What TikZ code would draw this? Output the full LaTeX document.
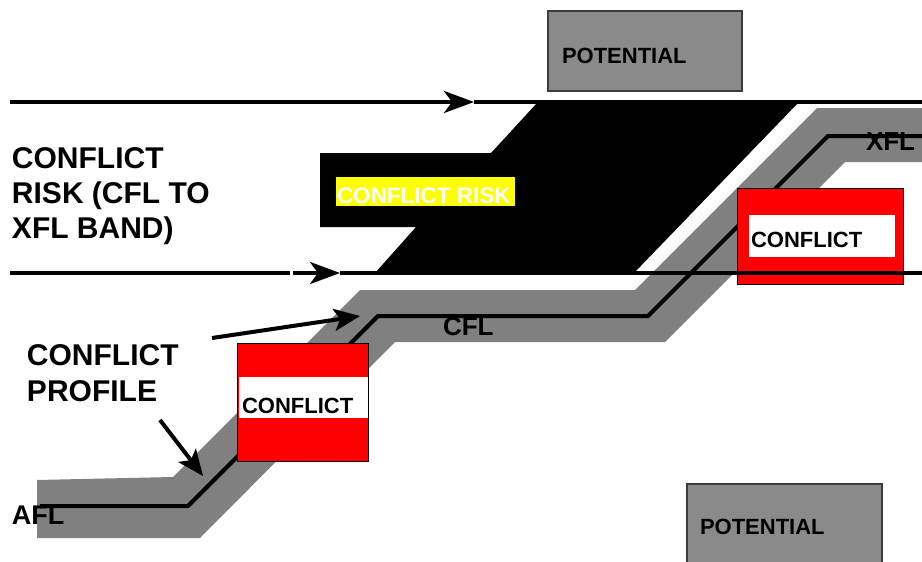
\documentclass[tikz,border=0pt]{standalone}
\usepackage{fontspec}
\setmainfont{Liberation Sans}
\usetikzlibrary{arrows.meta}
\definecolor{bandgray}{RGB}{128,128,128}
\definecolor{potgray}{RGB}{138,138,138}
\definecolor{potedge}{RGB}{60,60,60}
\definecolor{hiyellow}{RGB}{255,255,0}
\tikzset{
  txt/.style={inner sep=0pt, outer sep=0pt, anchor=base west, font=\bfseries},
  conflictbox/.style={draw=black, line width=1pt, fill=red, inner sep=0pt, outer sep=0pt},
  whitestripe/.style={fill=white, draw=none, inner sep=0pt, outer sep=0pt},
  potentialbox/.style={draw=potedge, line width=1.3pt, fill=potgray, inner sep=0pt, outer sep=0pt},
  flowline/.style={line width=3.5pt},
  profline/.style={line width=4pt, line join=miter},
  pointer/.style={line width=4pt, -{Stealth[length=26pt, width=22pt, inset=6pt]}},
  flowarrow/.style={line width=3.5pt, -{Stealth[length=30pt, width=22pt, inset=8pt]}}
}
\begin{document}
\begin{tikzpicture}[x=1pt, y=-1pt]
\useasboundingbox (0,0) rectangle (922,562);

% gray conflict-profile band
\fill[bandgray] (37,480) -- (173,477) -- (360,290) -- (635,290) -- (817,108) -- (922,108)
  -- (922,162) -- (845,162) -- (665,342) -- (395,342) -- (200,538) -- (37,538) -- cycle;

% black conflict-risk band
\fill[black] (537,103) -- (798,103) -- (634,273) -- (375,273) -- (416,227) -- (320,227)
  -- (320,153) -- (491,153) -- cycle;

% profile line
\coordinate (p0) at (40,506);
\coordinate (p1) at (188,506);
\coordinate (p2) at (378,316);
\coordinate (p3) at (648,316);
\coordinate (p4) at (828,136);
\coordinate (p5) at (922,136);
\draw[profline] (p0) -- (p1) -- (p2) -- (p3) -- (p4) -- (p5);

% conflict risk label
\node[fill=hiyellow, minimum width=179, minimum height=29, inner sep=0pt, outer sep=0pt] (riskbg) at (425.5,191.5) {};
\node[txt, text=white, font=\bfseries\fontsize{22.5}{26}\selectfont] (risklbl) at (337,203) {CONFLICT RISK};

% conflict boxes
\node[conflictbox, minimum width=131, minimum height=118] (c1) at (302.5,402) {};
\node[whitestripe, minimum width=129, minimum height=41] (c1w) at (303.5,397.5) {};
\node[txt, font=\bfseries\fontsize{22}{26}\selectfont] (c1t) at (242,413) {CONFLICT};

\node[conflictbox, minimum width=166, minimum height=96] (c2) at (820,236) {};
\node[whitestripe, minimum width=146, minimum height=42] (c2w) at (822,236) {};
\node[txt, font=\bfseries\fontsize{22}{26}\selectfont] (c2t) at (751,247) {CONFLICT};

% potential boxes
\node[potentialbox, minimum width=194, minimum height=80] (pot1) at (645,51) {};
\node[txt, font=\bfseries\fontsize{22}{26}\selectfont] (pot1t) at (562,63) {POTENTIAL};
\node[potentialbox, minimum width=195, minimum height=100] (pot2) at (784.5,534) {};
\node[txt, font=\bfseries\fontsize{22}{26}\selectfont] (pot2t) at (700,534) {POTENTIAL};

% horizontal flow lines
\coordinate (ta) at (10,102);
\coordinate (tb) at (474,102);
\coordinate (tc) at (922,102);
\draw[flowarrow] (ta) -- (tb);
\draw[flowline] (tb) -- (tc);

\coordinate (ba) at (10,273);
\coordinate (bb) at (290,273);
\coordinate (bc) at (293,273);
\coordinate (bd) at (340,273);
\coordinate (be) at (922,273);
\draw[flowline] (ba) -- (bb);
\draw[flowarrow] (bc) -- (bd);
\draw[flowline] (bd) -- (be);

% left labels
\node[txt, font=\bfseries\fontsize{30}{36}\selectfont] (r1) at (12,168) {CONFLICT};
\node[txt, font=\bfseries\fontsize{30}{36}\selectfont] (r2) at (12,203) {RISK (CFL TO};
\node[txt, font=\bfseries\fontsize{30}{36}\selectfont] (r3) at (12,238) {XFL BAND)};

\node[txt, font=\bfseries\fontsize{30}{36}\selectfont] (cp1) at (27,365) {CONFLICT};
\node[txt, font=\bfseries\fontsize{30}{36}\selectfont] (cp2) at (27,401) {PROFILE};

% level labels
\node[txt, font=\bfseries\fontsize{27}{32}\selectfont] (afl) at (12,524) {AFL};
\node[txt, font=\bfseries\fontsize{26}{30}\selectfont] (cfl) at (443,335) {CFL};
\node[txt, font=\bfseries\fontsize{26}{30}\selectfont] (xfl) at (866,150) {XFL};

% pointer arrows
\coordinate (a1s) at (212,338);
\coordinate (a1e) at (360,316);
\coordinate (a2s) at (160,420);
\coordinate (a2e) at (203,476);
\draw[pointer] (a1s) -- (a1e);
\draw[pointer] (a2s) -- (a2e);
\end{tikzpicture}
\end{document}
